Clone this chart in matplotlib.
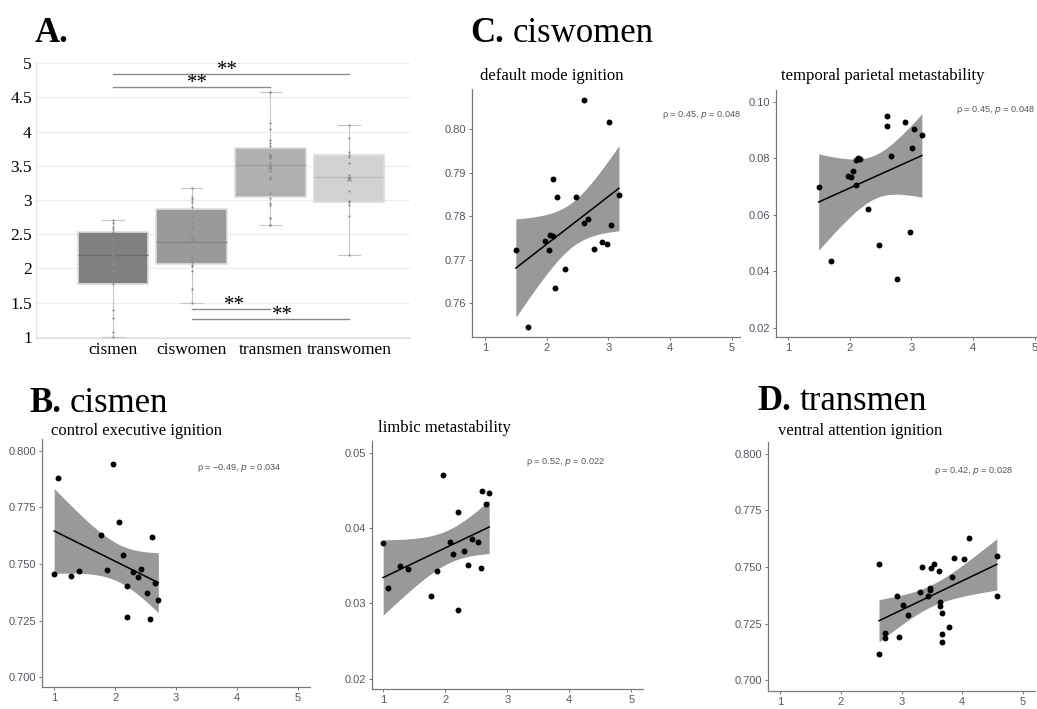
import numpy as np
import matplotlib.pyplot as plt
from matplotlib.ticker import FormatStrFormatter

plt.rcParams['font.family'] = 'Liberation Serif'

W, H = 1037, 709

# group scores (x in all scatter panels, points in the box plot)
groups = ['cismen', 'ciswomen', 'transmen', 'transwomen']
cismen_score = [1.00, 1.07, 1.27, 1.40, 1.77, 1.87, 1.97, 2.07, 2.13, 2.20,
                2.20, 2.30, 2.37, 2.43, 2.53, 2.57, 2.60, 2.66, 2.71]
ciswomen_score = [1.50, 1.70, 1.97, 2.03, 2.05, 2.10, 2.10, 2.14, 2.17, 2.30,
                  2.47, 2.61, 2.61, 2.67, 2.77, 2.90, 2.97, 3.01, 3.04, 3.17]
transmen_score = [2.63, 2.63, 2.73, 2.73, 2.93, 2.96, 3.03, 3.10, 3.31, 3.33,
                  3.43, 3.47, 3.47, 3.49, 3.54, 3.62, 3.63, 3.63, 3.66, 3.66,
                  3.66, 3.79, 3.83, 3.87, 4.03, 4.12, 4.57, 4.57]
transwomen_score = [2.20, 2.77, 2.93, 2.97, 2.99, 3.13, 3.30, 3.34, 3.36, 3.54,
                    3.63, 3.66, 3.70, 3.90, 4.10]

box_colors = ['#808080', '#9a9a9a', '#b0b0b0', '#d2d2d2']
median_colors = ['#6c6c6c', '#888888', '#9e9e9e', '#bdbdbd']

# significance brackets: (from group, to group, height, star x)
sig_pairs = [(1, 4, 4.84, 2.45), (1, 3, 4.65, 2.07), (2, 3, 1.41, 2.54), (2, 4, 1.26, 3.15)]

# network measures, same order as the group scores
control_exec_ignition = [0.7458, 0.7882, 0.7449, 0.7468, 0.7626, 0.7474, 0.7943, 0.7685,
                         0.7538, 0.7405, 0.7265, 0.7464, 0.7442, 0.7480, 0.7371, 0.7259,
                         0.7620, 0.7414, 0.7342]
limbic_metastability = [0.0380, 0.0320, 0.0350, 0.0346, 0.0310, 0.0343, 0.0470, 0.0381,
                        0.0365, 0.0421, 0.0291, 0.0370, 0.0351, 0.0386, 0.0382, 0.0347,
                        0.0449, 0.0432, 0.0446]
default_mode_ignition = [0.7721, 0.7545, 0.7742, 0.7721, 0.7757, 0.7755, 0.7886, 0.7635,
                         0.7843, 0.7679, 0.7844, 0.8067, 0.7784, 0.7793, 0.7725, 0.7740,
                         0.7735, 0.8017, 0.7780, 0.7848]
temporal_parietal_meta = [0.0699, 0.0437, 0.0736, 0.0732, 0.0753, 0.0793, 0.0705, 0.0799,
                          0.0798, 0.0621, 0.0491, 0.0949, 0.0914, 0.0808, 0.0371, 0.0926,
                          0.0537, 0.0837, 0.0903, 0.0883]
ventral_attn_ignition = [0.7115, 0.7512, 0.7209, 0.7185, 0.7372, 0.7190, 0.7331, 0.7287,
                         0.7390, 0.7500, 0.7372, 0.7407, 0.7399, 0.7494, 0.7512, 0.7482,
                         0.7346, 0.7326, 0.7299, 0.7203, 0.7169, 0.7234, 0.7457, 0.7540,
                         0.7537, 0.7628, 0.7549, 0.7372]

T95 = {17: 2.110, 18: 2.101, 26: 2.056}

fig = plt.figure(figsize=(W / 100, H / 100), dpi=100)


def px_axes(left, top, right, bottom):
    return fig.add_axes([left / W, 1 - bottom / H, (right - left) / W, (bottom - top) / H])


def header(x, y, bold, rest, gap=9):
    t = fig.text(x / W, 1 - y / H, bold, fontsize=25, fontweight='bold', va='baseline')
    if rest:
        bb = t.get_window_extent(fig.canvas.get_renderer())
        fig.text((bb.x1 + gap) / W, 1 - y / H, rest, fontsize=25, va='baseline')


# ---- A. box plot
axA = px_axes(36, 62, 410, 338)
data = [cismen_score, ciswomen_score, transmen_score, transwomen_score]
stats = []
for g, d in zip(groups, data):
    d = np.array(d)
    q1, med, q3 = np.percentile(d, [25, 50, 75], method='weibull')
    stats.append(dict(label=g, med=med, q1=q1, q3=q3, whislo=d.min(), whishi=d.max(),
                      mean=d.mean(), fliers=[]))
bp = axA.bxp(stats, positions=[1, 2, 3, 4], widths=0.9, patch_artist=True, showmeans=True,
             capwidths=0.27,
             boxprops=dict(edgecolor='#dedede', lw=1.2),
             whiskerprops=dict(color='#c6c6c6', lw=0.8),
             capprops=dict(color='#c6c6c6', lw=0.8),
             meanprops=dict(marker='x', markersize=3.5, markeredgecolor='#8a8a8a', markeredgewidth=0.7),
             zorder=2)
for patch, c in zip(bp['boxes'], box_colors):
    patch.set_facecolor(c)
for line, c in zip(bp['medians'], median_colors):
    line.set_color(c)
    line.set_linewidth(1.0)
for i, d in enumerate(data):
    axA.scatter(np.full(len(d), i + 1), d, s=2.5, color='#8c8c8c', lw=0, zorder=3)

for g1, g2, h, sx in sig_pairs:
    axA.plot([g1, g2], [h, h], color='#8a8a8a', lw=1.0, zorder=3)
    axA.text(sx, h - 0.09, '**', fontsize=15, ha='center', va='bottom', zorder=4)

axA.set_xlim(0.02, 4.775)
axA.set_ylim(0.985, 5.015)
axA.set_yticks(np.arange(1, 5.01, 0.5))
axA.set_yticklabels(['%g' % v for v in np.arange(1, 5.01, 0.5)])
axA.set_xticks([1, 2, 3, 4])
axA.set_xticklabels(groups)
axA.tick_params(length=0, labelsize=12.5, pad=3)
axA.yaxis.grid(True, color='#ececec', lw=0.8)
axA.set_axisbelow(True)
for s in ['top', 'right']:
    axA.spines[s].set_visible(False)
for s in ['left', 'bottom']:
    axA.spines[s].set_color('#e0e0e0')


# ---- scatter panels
def scatter_panel(rect, x, y, xlim, ylim, yticks, fmt, title, title_xy, stat, stat_xy):
    ax = px_axes(*rect)
    x = np.array(x)
    y = np.array(y)
    n = len(x)
    b, a = np.polyfit(x, y, 1)
    xs = np.linspace(x.min(), x.max(), 80)
    yhat = a + b * xs
    s = np.sqrt(np.sum((y - (a + b * x)) ** 2) / (n - 2))
    se = s * np.sqrt(1 / n + (xs - x.mean()) ** 2 / np.sum((x - x.mean()) ** 2))
    ax.fill_between(xs, yhat - T95[n - 2] * se, yhat + T95[n - 2] * se, color='#999999', lw=0)
    ax.plot(xs, yhat, color='black', lw=1.1)
    ax.scatter(x, y, s=18, color='black', lw=0, zorder=3)
    ax.set_xlim(*xlim)
    ax.set_ylim(*ylim)
    ax.set_xticks([1, 2, 3, 4, 5])
    ax.set_yticks(yticks)
    ax.yaxis.set_major_formatter(FormatStrFormatter(fmt))
    ax.tick_params(length=2.5, width=0.7, color='#777777', labelsize=8, labelcolor='#4f5868', pad=1.5)
    for lab in ax.get_xticklabels() + ax.get_yticklabels():
        lab.set_family('Liberation Sans')
    for sp in ['top', 'right']:
        ax.spines[sp].set_visible(False)
    for sp in ['left', 'bottom']:
        ax.spines[sp].set_color('#7a7a7a')
        ax.spines[sp].set_linewidth(0.9)
    fig.text(title_xy[0] / W, 1 - title_xy[1] / H, title, fontsize=12, va='baseline')
    ax.text(stat_xy[0], stat_xy[1], stat, fontsize=6.6, color='#555555', family='Liberation Sans',
            ha='left', va='center')
    return ax


scatter_panel((472, 89, 740, 337), ciswomen_score, default_mode_ignition,
              (0.79, 5.13), (0.7522, 0.8092), [0.76, 0.77, 0.78, 0.79, 0.80], '%.2f',
              'default mode ignition', (480, 80), 'ρ = 0.45, $p$ = 0.048', (3.87, 0.8032))
scatter_panel((776, 90, 1043, 337), ciswomen_score, temporal_parietal_meta,
              (0.81, 5.13), (0.0167, 0.1041), [0.02, 0.04, 0.06, 0.08, 0.10], '%.2f',
              'temporal parietal metastability', (781, 80), 'ρ = 0.45, $p$ = 0.048', (3.72, 0.0971))
scatter_panel((42, 439, 310, 687), cismen_score, control_exec_ignition,
              (0.80, 5.2), (0.6957, 0.8052), [0.700, 0.725, 0.750, 0.775, 0.800], '%.3f',
              'control executive ignition', (51, 435), 'ρ = −0.49, $p$ = 0.034', (3.34, 0.7925))
scatter_panel((372, 441, 643, 689), cismen_score, limbic_metastability,
              (0.82, 5.19), (0.01864, 0.05154), [0.02, 0.03, 0.04, 0.05], '%.2f',
              'limbic metastability', (378, 432), 'ρ = 0.52, $p$ = 0.022', (3.30, 0.04875))
scatter_panel((768, 442, 1035, 691), transmen_score, ventral_attn_ignition,
              (0.80, 5.2), (0.6953, 0.8052), [0.700, 0.725, 0.750, 0.775, 0.800], '%.3f',
              'ventral attention ignition', (778, 435), 'ρ = 0.42, $p$ = 0.028', (3.53, 0.7924))

header(35, 42, 'A.', '')
header(470, 42, 'C.', 'ciswomen')
header(29, 412, 'B.', 'cismen')
header(757, 410, 'D.', 'transmen')

fig.savefig('out.png', dpi=100)
